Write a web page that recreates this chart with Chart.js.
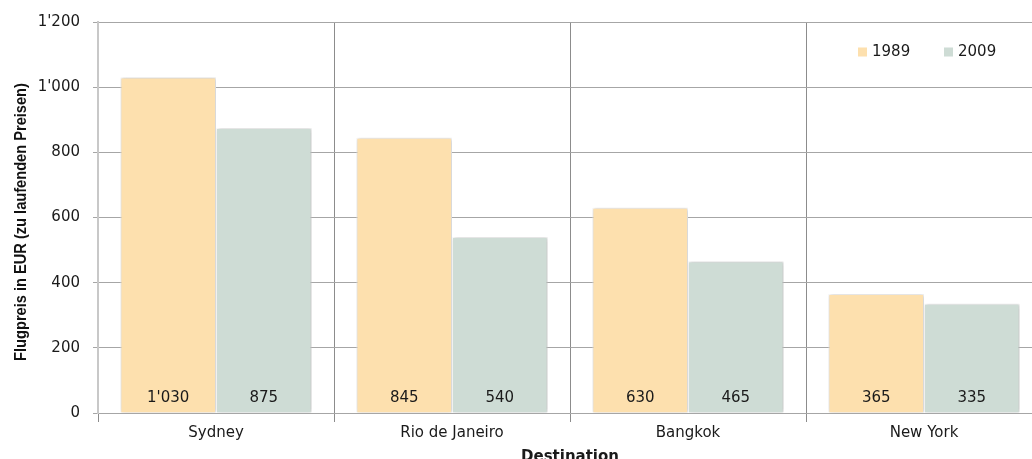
<!DOCTYPE html>
<html>
<head>
<meta charset="utf-8">
<script src="https://cdn.jsdelivr.net/npm/chart.js@4"></script>
<style>
  html, body { margin: 0; padding: 0; background: #fff; overflow: hidden; }
  #wrap { position: relative; width: 1032px; height: 459px; overflow: hidden; }
  canvas { position: absolute; left: 0; top: 0; }
</style>
</head>
<body>
<div id="wrap"><canvas id="fares" width="1044" height="470"></canvas></div>
<script>
const destinations = ["Sydney", "Rio de Janeiro", "Bangkok", "New York"];
const years = ["1989", "2009"];
const fares1989 = [1030, 845, 630, 365];
const fares2009 = [875, 540, 465, 335];
const yTitle = "Flugpreis in EUR (zu laufenden Preisen)";

const colors = ["#fde0ae", "#cedcd5"];

// 1'030 style thousands separator
function fmt(v) {
  return String(v).replace(/\B(?=(\d{3})+(?!\d))/g, "'");
}

Chart.defaults.font.family = "'DejaVu Sans', Verdana, sans-serif";
Chart.defaults.font.size = 15;
Chart.defaults.color = "#1a1a1a";

// soft drop shadow behind the bars
const barShadow = {
  id: "barShadow",
  beforeDatasetsDraw(chart) {
    const ctx = chart.ctx;
    ctx.save();
    ctx.shadowColor = "rgba(0,0,0,0.25)";
    ctx.shadowBlur = 4;
    ctx.shadowOffsetX = 1;
    ctx.shadowOffsetY = 0;
  },
  afterDatasetsDraw(chart) {
    chart.ctx.restore();
  },
};

// value printed near the foot of every bar
const barValues = {
  id: "barValues",
  afterDatasetsDraw(chart) {
    const ctx = chart.ctx;
    const y0 = chart.scales.y.getPixelForValue(0);
    ctx.save();
    ctx.font = "15px 'DejaVu Sans', Verdana, sans-serif";
    ctx.fillStyle = "#1a1a1a";
    ctx.textAlign = "center";
    ctx.textBaseline = "middle";
    chart.data.datasets.forEach((ds, i) => {
      chart.getDatasetMeta(i).data.forEach((bar, j) => {
        ctx.fillText(fmt(ds.data[j]), bar.x, y0 - 15);
      });
    });
    ctx.restore();
  },
};

// legend inside the plot, top right
const insideLegend = {
  id: "insideLegend",
  afterDraw(chart) {
    const ctx = chart.ctx;
    const xs = [858, 944];
    const y = 52;
    ctx.save();
    ctx.font = "15px 'DejaVu Sans', Verdana, sans-serif";
    ctx.textBaseline = "middle";
    ctx.textAlign = "left";
    chart.data.datasets.forEach((ds, i) => {
      ctx.fillStyle = ds.backgroundColor;
      ctx.fillRect(xs[i], y - 4.5, 9, 9);
      ctx.fillStyle = "#1a1a1a";
      ctx.fillText(ds.label, xs[i] + 14, y);
    });
    ctx.restore();
  },
};

// condensed, rotated title for the value axis
const valueTitle = {
  id: "valueTitle",
  afterDraw(chart) {
    const ctx = chart.ctx;
    ctx.save();
    ctx.translate(21, 222);
    ctx.rotate(-Math.PI / 2);
    ctx.scale(0.86, 1);
    ctx.font = "bold 17px 'Liberation Sans', Arial, sans-serif";
    ctx.fillStyle = "#111";
    ctx.textAlign = "center";
    ctx.textBaseline = "middle";
    ctx.fillText(yTitle, 0, 0);
    ctx.restore();
  },
};

new Chart(document.getElementById("fares"), {
  type: "bar",
  data: {
    labels: destinations,
    datasets: [
      { label: years[0], data: fares1989, backgroundColor: colors[0] },
      { label: years[1], data: fares2009, backgroundColor: colors[1] },
    ],
  },
  options: {
    responsive: false,
    animation: false,
    layout: { padding: { top: 21, right: 2, left: 0, bottom: 0 } },
    datasets: {
      bar: {
        categoryPercentage: 0.81,
        barPercentage: 1,
        borderColor: "#ffffff",
        borderWidth: 1,
      },
    },
    plugins: {
      legend: { display: false },
      tooltip: { enabled: false },
    },
    scales: {
      x: {
        grid: {
          offset: true,
          color: "#8c8c8c",
          lineWidth: 1,
          tickLength: 9,
        },
        border: { color: "#a6a6a6", width: 1 },
        ticks: { padding: 2 },
        title: {
          display: true,
          text: "Destination",
          font: { size: 15, weight: "bold" },
          padding: { top: 0, bottom: 4 },
        },
        afterFit(scale) {
          scale.height = 57;
        },
      },
      y: {
        min: 0,
        max: 1200,
        ticks: {
          stepSize: 200,
          padding: 13,
          callback: (v) => fmt(v),
        },
        grid: {
          color: "#a6a6a6",
          lineWidth: 1,
          tickLength: 5,
        },
        border: { color: "#c8c8c8", width: 2 },
        afterFit(scale) {
          scale.width = 98;
        },
      },
    },
  },
  plugins: [barShadow, barValues, insideLegend, valueTitle],
});
</script>
</body>
</html>
